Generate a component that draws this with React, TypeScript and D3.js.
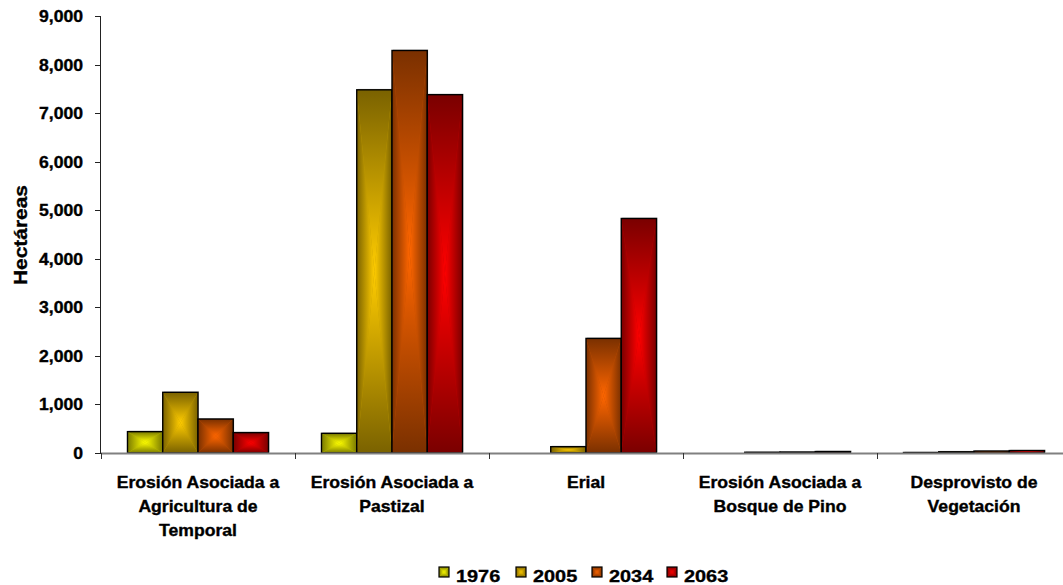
import React from "react";
import * as d3 from "d3";

const categories = [
  "Erosión Asociada a|Agricultura de|Temporal",
  "Erosión Asociada a|Pastizal",
  "Erial",
  "Erosión Asociada a|Bosque de Pino",
  "Desprovisto de|Vegetación",
];
const years = ["1976", "2005", "2034", "2063"];
const values1976 = [440, 405, 0, 0, 10];
const values2005 = [1250, 7480, 130, 15, 25];
const values2034 = [700, 8290, 2360, 20, 40];
const values2063 = [420, 7380, 4830, 30, 50];
const seriesValues = [values1976, values2005, values2034, values2063];
const yTicks = [0, 1000, 2000, 3000, 4000, 5000, 6000, 7000, 8000, 9000];
const yTitle = "Hectáreas";

const brightColors = ["#ffff00", "#ffcc00", "#ff6600", "#ff0000"];
const darkColors = ["#7a7a00", "#7a6200", "#7a3000", "#7a0000"];

const W = 1063;
const H = 585;
const FONT = "'Liberation Sans', Arial, Helvetica, sans-serif";

function BoxGradRect({ x, y, w, h, i }: { x: number; y: number; w: number; h: number; i: number }) {
  if (h <= 0.01 || w <= 0) return null;
  const cx = x + w / 2;
  const cy = y + h / 2;
  const x1 = x + w;
  const y1 = y + h;
  const mid = d3.interpolateRgb(darkColors[i], brightColors[i])(0.5);
  return (
    <g>
      <rect x={x} y={y} width={w} height={h} fill={mid} />
      <path d={`M${x},${y}L${x1},${y}L${cx},${cy}Z`} fill={`url(#g${i}t)`} />
      <path d={`M${x},${y1}L${x1},${y1}L${cx},${cy}Z`} fill={`url(#g${i}b)`} />
      <path d={`M${x},${y}L${x},${y1}L${cx},${cy}Z`} fill={`url(#g${i}l)`} />
      <path d={`M${x1},${y}L${x1},${y1}L${cx},${cy}Z`} fill={`url(#g${i}r)`} />
    </g>
  );
}

export default function App() {
  const plotLeft = 101;
  const plotRight = 1071;
  const plotTop = 16;
  const plotBottom = 453;

  const x0 = d3
    .scaleBand<number>()
    .domain(categories.map((_, i) => i))
    .range([plotLeft, plotRight])
    .padding(0);
  const bw = x0.bandwidth();
  const x1 = d3
    .scaleBand<string>()
    .domain(years)
    .range([bw * 0.1365, bw * 0.8635])
    .padding(0);
  const y = d3.scaleLinear().domain([0, 9000]).range([plotBottom, plotTop]);
  const fmt = d3.format(",");

  const defs: JSX.Element[] = [];
  years.forEach((_, i) => {
    const dark = darkColors[i];
    const bright = brightColors[i];
    const dirs: [string, number, number, number, number, string, string][] = [
      ["t", 0, 0, 0, 1, dark, bright],
      ["b", 0, 0, 0, 1, bright, dark],
      ["l", 0, 0, 1, 0, dark, bright],
      ["r", 0, 0, 1, 0, bright, dark],
    ];
    dirs.forEach(([k, ax, ay, bx, by, c0, c1]) => {
      defs.push(
        <linearGradient key={`g${i}${k}`} id={`g${i}${k}`} x1={ax} y1={ay} x2={bx} y2={by}>
          <stop offset="0" stopColor={c0} />
          <stop offset="1" stopColor={c1} />
        </linearGradient>
      );
    });
  });

  const labelSx = 1.1;
  const legendItemX = [439, 516, 592, 667];
  const textStroke = { stroke: "#000", strokeWidth: 0.35 };

  return (
    <svg
      width={W}
      height={H}
      style={{ position: "absolute", left: 0, top: 0, background: "#ffffff" }}
      fontFamily={FONT}
    >
      <defs>{defs}</defs>
      <rect x={0} y={0} width={W} height={H} fill="#ffffff" />

      {/* bars */}
      {categories.map((_, ci) =>
        years.map((yr, si) => {
          const v = seriesValues[si][ci];
          const bx = (x0(ci) as number) + (x1(yr) as number);
          const w = x1.bandwidth();
          const top = y(v);
          const h = plotBottom - top;
          if (h <= 0.01) return null;
          return (
            <g key={`${ci}-${si}`}>
              <rect x={bx + 1} y={top - 1} width={w} height={h} fill="#9a9a9a" opacity={0.45} />
              <BoxGradRect x={bx} y={top} w={w} h={h} i={si} />
              <rect x={bx} y={top} width={w} height={h} fill="none" stroke="#000" strokeWidth={1.4} />
            </g>
          );
        })
      )}

      {/* x axis */}
      <line x1={plotLeft} x2={W} y1={plotBottom + 0.5} y2={plotBottom + 0.5} stroke="#808080" strokeWidth={2} />
      {d3.range(categories.length + 1).map((i) => {
        const xx = Math.round(plotLeft + bw * i) + 0.5;
        return <line key={`xt${i}`} x1={xx} x2={xx} y1={plotBottom} y2={plotBottom + 6} stroke="#333" strokeWidth={1} />;
      })}

      {/* y axis */}
      <line x1={plotLeft - 0.5} x2={plotLeft - 0.5} y1={plotTop} y2={plotBottom} stroke="#222" strokeWidth={1} />
      {yTicks.map((t) => {
        const yy = Math.round(y(t)) + 0.5;
        return (
          <g key={`yt${t}`}>
            <line x1={plotLeft - 6} x2={plotLeft} y1={yy} y2={yy} stroke="#222" strokeWidth={1} />
            <text
              transform={`translate(83,${yy + 5.5}) scale(${labelSx},1)`}
              textAnchor="end"
              fontSize={16}
              fontWeight="bold"
              fill="#000"
              {...textStroke}
            >
              {fmt(t)}
            </text>
          </g>
        );
      })}

      {/* y title */}
      <text
        transform={`translate(27,235) rotate(-90)`}
        textAnchor="middle"
        fontSize={18}
        fontWeight="bold"
        fill="#000"
        textLength={100}
        lengthAdjust="spacingAndGlyphs"
        {...textStroke}
      >
        {yTitle}
      </text>

      {/* category labels */}
      {categories.map((c, ci) => {
        const cx = (x0(ci) as number) + bw / 2;
        return c.split("|").map((line, li) => (
          <text
            key={`cl${ci}-${li}`}
            transform={`translate(${cx},${488 + li * 24}) scale(${labelSx},1)`}
            textAnchor="middle"
            fontSize={16}
            fontWeight="bold"
            fill="#000"
            {...textStroke}
          >
            {line}
          </text>
        ));
      })}

      {/* legend */}
      {years.map((yr, si) => {
        const lx = legendItemX[si];
        return (
          <g key={`lg${yr}`}>
            <BoxGradRect x={lx} y={567} w={10} h={10} i={si} />
            <rect x={lx} y={567} width={10} height={10} fill="none" stroke="#000" strokeWidth={1.2} />
            <text
              transform={`translate(${lx + 17},${582}) scale(1.17,1)`}
              fontSize={17}
              fontWeight="bold"
              fill="#000"
              {...textStroke}
            >
              {yr}
            </text>
          </g>
        );
      })}
    </svg>
  );
}
